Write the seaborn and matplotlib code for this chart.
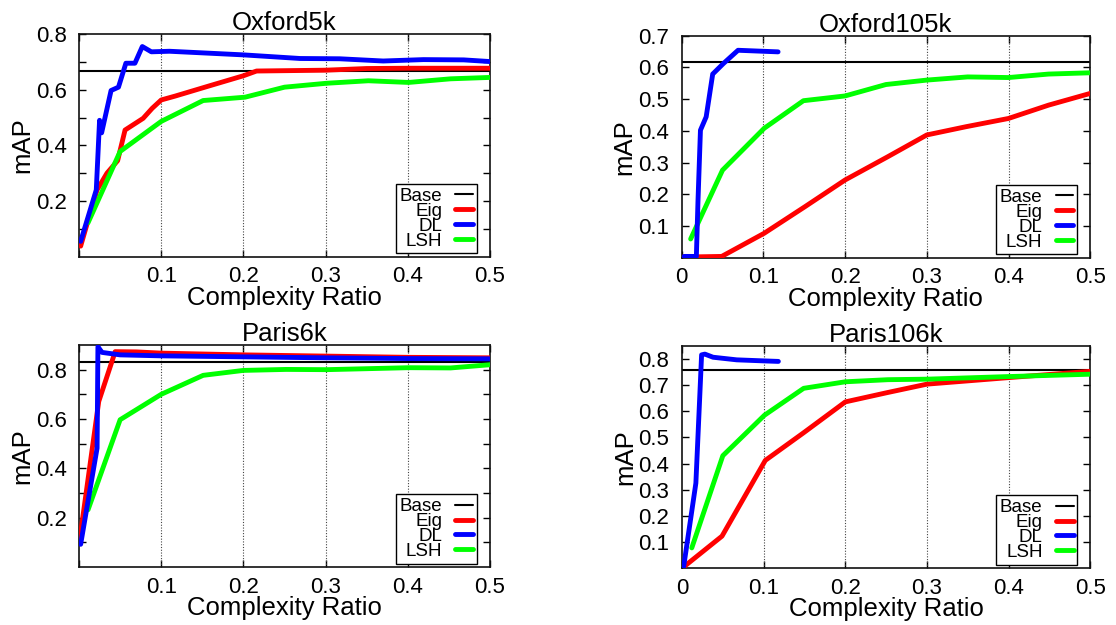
import numpy as np
import pandas as pd
import matplotlib
matplotlib.use("Agg")
import matplotlib.pyplot as plt
from matplotlib.lines import Line2D
import seaborn as sns

# ---------------- data ----------------
titles = ["Oxford5k", "Oxford105k", "Paris6k", "Paris106k"]
base_vals = [0.668, 0.616, 0.831, 0.760]

# Oxford5k
o5_eig_x = [0.002, 0.011, 0.022, 0.034, 0.047, 0.056, 0.078, 0.089, 0.100, 0.117, 0.160, 0.200, 0.216, 0.300, 0.350, 0.400, 0.500]
o5_eig_y = [0.038, 0.130, 0.240, 0.300, 0.345, 0.455, 0.497, 0.533, 0.563, 0.577, 0.615, 0.650, 0.667, 0.670, 0.676, 0.677, 0.677]
o5_dl_x = [0.002, 0.021, 0.025, 0.0275, 0.039, 0.048, 0.057, 0.068, 0.077, 0.088, 0.110, 0.200, 0.269, 0.317, 0.370, 0.419, 0.468, 0.500]
o5_dl_y = [0.055, 0.240, 0.490, 0.445, 0.597, 0.609, 0.695, 0.695, 0.755, 0.736, 0.738, 0.725, 0.712, 0.711, 0.703, 0.708, 0.707, 0.701]
o5_lsh_x = [0.011, 0.050, 0.100, 0.151, 0.202, 0.250, 0.301, 0.352, 0.401, 0.452, 0.500]
o5_lsh_y = [0.122, 0.378, 0.486, 0.561, 0.573, 0.609, 0.623, 0.632, 0.626, 0.639, 0.644]

# Oxford105k
o105_eig_x = [0.002, 0.049, 0.101, 0.151, 0.200, 0.252, 0.300, 0.348, 0.400, 0.449, 0.500]
o105_eig_y = [0.002, 0.004, 0.077, 0.161, 0.245, 0.318, 0.387, 0.413, 0.439, 0.481, 0.518]
o105_dl_x = [0.003, 0.018, 0.020, 0.023, 0.030, 0.038, 0.051, 0.069, 0.118]
o105_dl_y = [0.004, 0.004, 0.180, 0.402, 0.444, 0.579, 0.612, 0.654, 0.649]
o105_lsh_x = [0.011, 0.050, 0.101, 0.149, 0.200, 0.250, 0.300, 0.350, 0.400, 0.449, 0.500]
o105_lsh_y = [0.059, 0.276, 0.408, 0.495, 0.510, 0.546, 0.560, 0.570, 0.568, 0.579, 0.583]

# Paris6k
p6_eig_x = [0.001, 0.024, 0.044, 0.070, 0.100, 0.200, 0.300, 0.400, 0.500]
p6_eig_y = [0.115, 0.671, 0.873, 0.872, 0.867, 0.860, 0.855, 0.850, 0.848]
p6_dl_x = [0.002, 0.022, 0.023, 0.028, 0.050, 0.100, 0.200, 0.300, 0.400, 0.500]
p6_dl_y = [0.092, 0.482, 0.893, 0.870, 0.860, 0.856, 0.852, 0.848, 0.845, 0.844]
p6_lsh_x = [0.011, 0.050, 0.100, 0.151, 0.200, 0.252, 0.301, 0.401, 0.452, 0.500]
p6_lsh_y = [0.232, 0.597, 0.700, 0.777, 0.797, 0.801, 0.800, 0.808, 0.807, 0.820]

# Paris106k
p106_eig_x = [0.002, 0.049, 0.102, 0.149, 0.200, 0.252, 0.300, 0.400, 0.500]
p106_eig_y = [0.004, 0.122, 0.412, 0.518, 0.636, 0.672, 0.704, 0.729, 0.753]
p106_dl_x = [0.002, 0.017, 0.022, 0.024, 0.028, 0.038, 0.067, 0.100, 0.118]
p106_dl_y = [0.004, 0.325, 0.674, 0.816, 0.819, 0.807, 0.797, 0.793, 0.791]
p106_lsh_x = [0.012, 0.050, 0.101, 0.149, 0.200, 0.252, 0.300, 0.400, 0.500]
p106_lsh_y = [0.077, 0.430, 0.585, 0.688, 0.713, 0.721, 0.723, 0.733, 0.742]

series_names = ["Eig", "DL", "LSH"]
all_data = [
    [(o5_eig_x, o5_eig_y), (o5_dl_x, o5_dl_y), (o5_lsh_x, o5_lsh_y)],
    [(o105_eig_x, o105_eig_y), (o105_dl_x, o105_dl_y), (o105_lsh_x, o105_lsh_y)],
    [(p6_eig_x, p6_eig_y), (p6_dl_x, p6_dl_y), (p6_lsh_x, p6_lsh_y)],
    [(p106_eig_x, p106_eig_y), (p106_dl_x, p106_dl_y), (p106_lsh_x, p106_lsh_y)],
]

ylims = [0.8, 0.7, 0.9, 0.85]
left_yticks = [0.1, 0.2, 0.3, 0.4, 0.5, 0.6, 0.7, 0.8]
left_yticklabels = ["", "0.2", "", "0.4", "", "0.6", "", "0.8"]
o105_yticks = [0.1, 0.2, 0.3, 0.4, 0.5, 0.6, 0.7]
p106_yticks = [0.1, 0.2, 0.3, 0.4, 0.5, 0.6, 0.7, 0.8]
xticks_all = [0.0, 0.1, 0.2, 0.3, 0.4, 0.5]
xlabels_left = ["", "0.1", "0.2", "0.3", "0.4", "0.5"]
xlabels_right = ["0", "0.1", "0.2", "0.3", "0.4", "0.5"]

colors = {"Eig": "#ff0000", "DL": "#0000ff", "LSH": "#00ff00"}

# ---------------- style ----------------
sns.set_theme(style="ticks")
plt.rcParams["font.family"] = ["Liberation Sans", "DejaVu Sans"]
plt.rcParams["text.color"] = "black"
plt.rcParams["axes.labelcolor"] = "black"
plt.rcParams["xtick.color"] = "black"
plt.rcParams["ytick.color"] = "black"

fig = plt.figure(figsize=(11.16, 6.25), dpi=100)
positions = [
    [0.0708, 0.5893, 0.3683, 0.3563],
    [0.6108, 0.5877, 0.3661, 0.3552],
    [0.0708, 0.0928, 0.3683, 0.3552],
    [0.6111, 0.0912, 0.3659, 0.3552],
]

for i in range(4):
    ax = fig.add_axes(positions[i])
    ax.set_facecolor("white")
    for j, name in enumerate(series_names):
        xs, ys = all_data[i][j]
        df = pd.DataFrame({"x": xs, "y": ys})
        sns.lineplot(data=df, x="x", y="y", ax=ax, color=colors[name], lw=3.5,
                     estimator=None, sort=False, legend=False, zorder=3 + (1 if name == "DL" else 0))
    ax.axhline(base_vals[i], color="black", lw=1.5, zorder=2)

    ax.set_xlim(0, 0.5)
    ax.set_ylim(0, ylims[i])
    ax.set_xticks(xticks_all)
    if i % 2 == 0:
        ax.set_xticklabels(xlabels_left)
        ax.set_yticks(left_yticks)
        ax.set_yticklabels(left_yticklabels)
    else:
        ax.set_xticklabels(xlabels_right)
        yt = o105_yticks if i == 1 else p106_yticks
        ax.set_yticks(yt)
        ax.set_yticklabels([f"{v:.1f}" for v in yt])

    for xv in [0.1, 0.2, 0.3, 0.4]:
        ax.axvline(xv, color="#444444", lw=0.8, ls=(0, (1, 1.5)), zorder=1)

    ax.tick_params(direction="in", length=5, width=1, top=True, right=True,
                   labelsize=16, colors="black", labelcolor="black")
    ax.tick_params(axis="y", pad=9)
    ax.tick_params(axis="x", pad=7)
    for s in ax.spines.values():
        s.set_linewidth(1.2)
        s.set_color("#111111")
        s.set_visible(True)

    ax.set_title(titles[i], fontsize=18.5, pad=3, color="black")
    ax.set_xlabel("Complexity Ratio", fontsize=18.5, labelpad=-1, color="black")
    ax.set_ylabel("mAP", fontsize=18.5, labelpad=1, color="black")

    handles = [Line2D([], [], color="black", lw=1.5)] + \
              [Line2D([], [], color=colors[n], lw=3.5) for n in series_names]
    leg = ax.legend(handles, ["Base"] + series_names, loc="lower right",
                    bbox_to_anchor=(0.968, 0.015), borderaxespad=0,
                    frameon=True, fancybox=False, framealpha=1, edgecolor="black",
                    fontsize=13.5, markerfirst=False, handlelength=0.95,
                    handletextpad=0.7, labelspacing=-0.12, borderpad=0.2,
                    labelcolor="black")
    leg.get_frame().set_linewidth(1.0)
    leg.set_zorder(10)

fig.savefig("out.png", dpi=100, facecolor="white")
